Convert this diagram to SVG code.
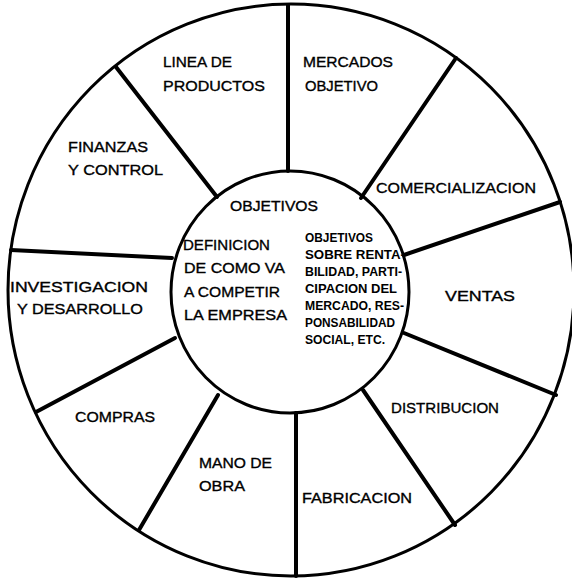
<svg xmlns="http://www.w3.org/2000/svg" width="572" height="579" viewBox="0 0 572 579">
<style>
.ring{fill:none;stroke:#000;stroke-width:3}
.spoke{stroke:#000;stroke-width:4;stroke-linecap:round}
.t{font-family:"Liberation Sans",Arial,sans-serif;font-size:15px;fill:#000;stroke:#000;stroke-width:0.35}
.s{font-family:"Liberation Sans",Arial,sans-serif;font-size:12px;font-weight:bold;fill:#000}
</style>
<rect width="572" height="579" fill="#fff"/>
<g id="wheel">
<ellipse class="ring" cx="291" cy="290" rx="283" ry="286"/>
<ellipse class="ring" cx="290" cy="292" rx="119" ry="121"/>
</g>
<g id="connectors">
<line class="spoke" x1="288" y1="5" x2="288" y2="171"/>
<line class="spoke" x1="456" y1="58" x2="361" y2="198"/>
<line class="spoke" x1="560" y1="202" x2="404" y2="255"/>
<line class="spoke" x1="556" y1="395" x2="404" y2="333"/>
<line class="spoke" x1="455" y1="525" x2="363" y2="390"/>
<line class="spoke" x1="296" y1="576" x2="296" y2="413"/>
<line class="spoke" x1="139" y1="530" x2="218" y2="395"/>
<line class="spoke" x1="36" y1="412" x2="175" y2="338"/>
<line class="spoke" x1="11" y1="250" x2="172" y2="258"/>
<line class="spoke" x1="116" y1="67" x2="217" y2="197"/>
</g>
<g id="linea-productos">
<text class="t" x="163" y="67" textLength="69" lengthAdjust="spacingAndGlyphs">LINEA DE</text>
<text class="t" x="163" y="91" textLength="102" lengthAdjust="spacingAndGlyphs">PRODUCTOS</text>
</g>
<g id="mercados-objetivo">
<text class="t" x="303" y="67" textLength="90" lengthAdjust="spacingAndGlyphs">MERCADOS</text>
<text class="t" x="305" y="91" textLength="73" lengthAdjust="spacingAndGlyphs">OBJETIVO</text>
</g>
<g id="comercializacion">
<text class="t" x="376" y="193" textLength="160" lengthAdjust="spacingAndGlyphs">COMERCIALIZACION</text>
</g>
<g id="ventas">
<text class="t" x="445" y="301" textLength="70" lengthAdjust="spacingAndGlyphs">VENTAS</text>
</g>
<g id="distribucion">
<text class="t" x="391" y="413" textLength="108" lengthAdjust="spacingAndGlyphs">DISTRIBUCION</text>
</g>
<g id="fabricacion">
<text class="t" x="302" y="503" textLength="110" lengthAdjust="spacingAndGlyphs">FABRICACION</text>
</g>
<g id="mano-de-obra">
<text class="t" x="199" y="468" textLength="73" lengthAdjust="spacingAndGlyphs">MANO DE</text>
<text class="t" x="199" y="491" textLength="46" lengthAdjust="spacingAndGlyphs">OBRA</text>
</g>
<g id="compras">
<text class="t" x="75" y="422" textLength="80" lengthAdjust="spacingAndGlyphs">COMPRAS</text>
</g>
<g id="investigacion-desarrollo">
<text class="t" x="10" y="292" textLength="138" lengthAdjust="spacingAndGlyphs">INVESTIGACION</text>
<text class="t" x="17" y="314" textLength="126" lengthAdjust="spacingAndGlyphs">Y DESARROLLO</text>
</g>
<g id="finanzas-control">
<text class="t" x="68" y="152" textLength="80" lengthAdjust="spacingAndGlyphs">FINANZAS</text>
<text class="t" x="68" y="175" textLength="95" lengthAdjust="spacingAndGlyphs">Y CONTROL</text>
</g>
<g id="objetivos">
<text class="t" x="230" y="211" textLength="88" lengthAdjust="spacingAndGlyphs">OBJETIVOS</text>
<text class="t" x="183" y="250" textLength="87" lengthAdjust="spacingAndGlyphs">DEFINICION</text>
<text class="t" x="184" y="273" textLength="101" lengthAdjust="spacingAndGlyphs">DE COMO VA</text>
<text class="t" x="184" y="297" textLength="96" lengthAdjust="spacingAndGlyphs">A COMPETIR</text>
<text class="t" x="184" y="320" textLength="103" lengthAdjust="spacingAndGlyphs">LA EMPRESA</text>
<text class="s" x="305" y="242" textLength="68" lengthAdjust="spacingAndGlyphs">OBJETIVOS</text>
<text class="s" x="305" y="259" textLength="100" lengthAdjust="spacingAndGlyphs">SOBRE RENTA-</text>
<text class="s" x="305" y="276" textLength="97" lengthAdjust="spacingAndGlyphs">BILIDAD, PARTI-</text>
<text class="s" x="305" y="293" textLength="92" lengthAdjust="spacingAndGlyphs">CIPACION DEL</text>
<text class="s" x="305" y="310" textLength="99" lengthAdjust="spacingAndGlyphs">MERCADO, RES-</text>
<text class="s" x="305" y="327" textLength="90" lengthAdjust="spacingAndGlyphs">PONSABILIDAD</text>
<text class="s" x="305" y="344" textLength="80" lengthAdjust="spacingAndGlyphs">SOCIAL, ETC.</text>
</g>
</svg>
